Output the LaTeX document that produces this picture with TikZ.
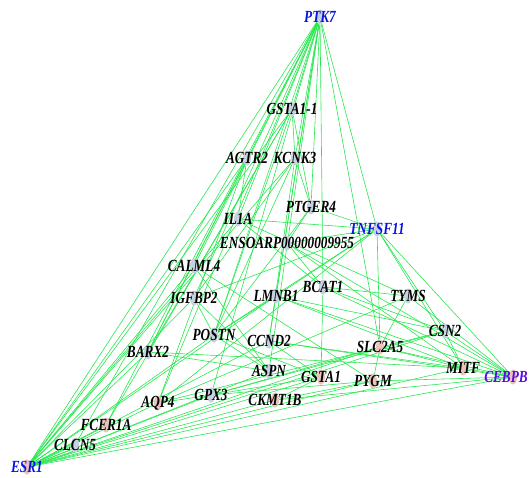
\documentclass[tikz,border=0pt]{standalone}
\usepackage{fontspec}
\newfontfamily\genefont{Liberation Serif}[FakeStretch=0.78]
\usepackage{xcolor}
\usetikzlibrary{shapes.geometric,backgrounds}
\definecolor{linkgreen}{RGB}{40,232,80}
\definecolor{hubblue}{RGB}{10,20,225}
\definecolor{hubviolet}{RGB}{90,10,230}
\definecolor{dotblue}{RGB}{198,210,224}
\definecolor{dotpink}{RGB}{234,196,188}

\begin{document}
\begin{tikzpicture}[x=1pt, y=-1pt,
  dot/.style={ellipse, draw=none, fill=#1, minimum width=8pt, minimum height=15pt, inner sep=0pt},
  gname/.style={font=\genefont\fontsize{17}{20}\selectfont\bfseries\itshape, inner sep=0pt, text=black},
  hub/.style={gname, text=hubblue},
  link/.style={draw=linkgreen, line width=0.6pt}]
\useasboundingbox (0,0) rectangle (529,478);
% genes
\node[dot=dotblue, label={[hub]center:PTK7}] (ptk) at (320,17) {};
\node[dot=dotblue, label={[gname]center:GSTA1-1}] (gstaa) at (292,109) {};
\node[dot=dotblue, label={[gname]center:AGTR2}] (agtr) at (247,158) {};
\node[dot=dotblue, label={[gname]center:KCNK3}] (kcnk) at (295,158) {};
\node[dot=dotblue, label={[gname]center:PTGER4}] (ptger) at (311,207) {};
\node[dot=dotblue, label={[gname]center:IL1A}] (ilia) at (238,219) {};
\node[dot=dotblue, label={[hub]center:TNFSF11}] (tnf) at (377,229) {};
\node[dot=dotblue, label={[gname]center:ENSOARP00000009955}] (enso) at (287,243) {};
\node[dot=dotblue, label={[gname]center:CALML4}] (calm) at (194,266) {};
\node[dot=dotblue, label={[gname]center:IGFBP2}] (igfbp) at (194,298) {};
\node[dot=dotblue, label={[gname]center:LMNB1}] (lmnb) at (276,296) {};
\node[dot=dotblue, label={[gname]center:BCAT1}] (bcat) at (323,287) {};
\node[dot=dotblue, label={[gname]center:TYMS}] (tyms) at (408,296) {};
\node[dot=dotblue, label={[gname]center:POSTN}] (postn) at (214,335) {};
\node[dot=dotblue, label={[gname]center:CCND2}] (ccnd) at (269,341) {};
\node[dot=dotblue, label={[gname]center:CSN2}] (csn) at (445,331) {};
\node[dot=dotpink, label={[gname]center:SLC2A5}] (slc) at (380,347) {};
\node[dot=dotblue, label={[gname]center:BARX2}] (barx) at (148,352) {};
\node[dot=dotblue, label={[gname]center:ASPN}] (aspn) at (269,371) {};
\node[dot=dotpink, label={[gname]center:GSTA1}] (gsta) at (321,377) {};
\node[dot=dotpink, label={[gname]center:PYGM}] (pygm) at (373,381) {};
\node[dot=dotpink, label={[gname]center:MITF}] (mitf) at (463,368) {};
\node[dot=dotpink, label={[hub, text=hubviolet, xshift=-7pt]center:CEBPB}] (cebpb) at (513,377) {};
\node[dot=dotblue, label={[gname]center:GPX3}] (gpx) at (211,395) {};
\node[dot=dotpink, label={[gname]center:AQP4}] (aqp) at (158,403) {};
\node[dot=dotpink, label={[gname]center:CKMT1B}] (ckmt) at (275,400) {};
\node[dot=dotpink, label={[gname]center:FCER1A}] (fcer) at (106,425) {};
\node[dot=dotblue, label={[gname]center:CLCN5}] (clcn) at (75,445) {};
\node[dot=dotpink, label={[hub]center:ESR1}] (esr) at (27,467) {};
% interactions
\begin{scope}[on background layer]
\foreach \a/\b in {ptk/esr, ptk/gstaa, ptk/kcnk, ptk/calm, ptk/igfbp, ptk/barx, ptk/fcer,
    ptk/clcn, ptk/aqp, ptk/postn, ptk/lmnb, ptk/ccnd, ptk/aspn, ptk/gpx, ptk/bcat,
    ptk/tnf, ptk/slc, ptk/ptger, ptk/ilia}
  \draw[link] (\a) -- (\b);
\foreach \a/\b in {esr/clcn, esr/fcer, esr/barx, esr/igfbp, esr/calm, esr/postn, esr/aqp,
    esr/gpx, esr/ckmt, esr/gsta, esr/pygm, esr/mitf, esr/cebpb, esr/slc, esr/csn, esr/aspn,
    esr/lmnb, esr/agtr, esr/kcnk, esr/gstaa, esr/ilia, esr/ccnd}
  \draw[link] (\a) -- (\b);
\foreach \a/\b in {cebpb/tnf, cebpb/tyms, cebpb/csn, cebpb/mitf, cebpb/slc, cebpb/lmnb,
    cebpb/bcat, cebpb/enso, cebpb/ckmt, cebpb/pygm, cebpb/ccnd,
    tnf/ilia, tnf/ptger, tnf/enso, tnf/csn, tnf/mitf, tnf/slc, tnf/postn, tnf/aqp,
    tnf/igfbp, tnf/lmnb}
  \draw[link] (\a) -- (\b);
\foreach \a/\b in {gstaa/kcnk, gstaa/ptger, gstaa/barx, gstaa/fcer, gstaa/postn,
    agtr/ilia, agtr/aqp, agtr/barx, kcnk/ptger, kcnk/postn, kcnk/igfbp, kcnk/ccnd,
    ptger/enso, ptger/postn, ilia/bcat, ilia/tyms, enso/bcat, enso/mitf,
    calm/pygm, calm/aspn, igfbp/postn, igfbp/aspn, lmnb/csn, lmnb/mitf, lmnb/postn,
    bcat/tyms, bcat/gsta, bcat/csn, tyms/slc, tyms/aqp, csn/mitf, csn/gpx,
    slc/mitf, slc/gpx, slc/pygm, ccnd/mitf, ccnd/gsta, barx/aspn, barx/mitf,
    postn/aspn, postn/gsta, gpx/gsta, gpx/pygm, aqp/gpx, aqp/csn, ckmt/pygm, ckmt/gsta}
  \draw[link] (\a) -- (\b);
\end{scope}
\end{tikzpicture}
\end{document}
